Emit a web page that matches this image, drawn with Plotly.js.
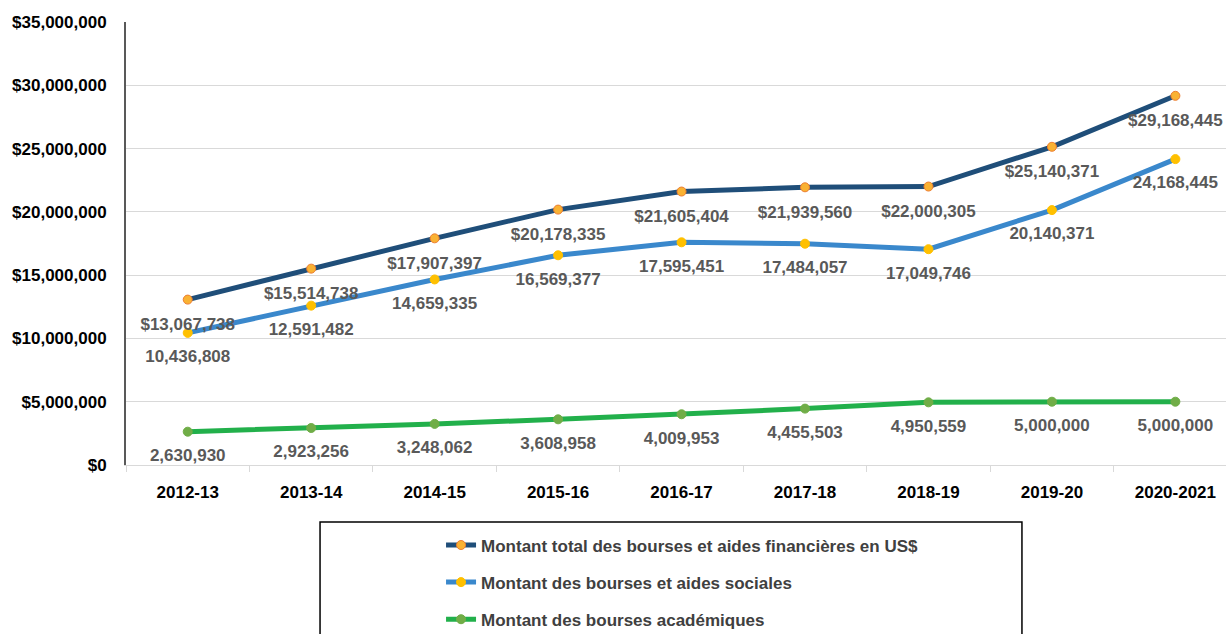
<!DOCTYPE html>
<html>
<head>
<meta charset="utf-8">
<script src="https://cdn.plot.ly/plotly-3.0.1.min.js"></script>
<style>html,body{margin:0;padding:0;overflow:hidden;background:#fff;}</style>
</head>
<body>
<div id="chart" style="width:1226px;height:634px;"></div>
<script>
const years = ["2012-13","2013-14","2014-15","2015-16","2016-17","2017-18","2018-19","2019-20","2020-2021"];
const totalAmounts = [13067738,15514738,17907397,20178335,21605404,21939560,22000305,25140371,29168445];
const socialAmounts = [10436808,12591482,14659335,16569377,17595451,17484057,17049746,20140371,24168445];
const academicAmounts = [2630930,2923256,3248062,3608958,4009953,4455503,4950559,5000000,5000000];
const seriesNames = [
  "Montant total des bourses et aides financières en US$",
  "Montant des bourses et aides sociales",
  "Montant des bourses académiques"
];
const yTickVals = [0,5000000,10000000,15000000,20000000,25000000,30000000,35000000];
const yTickText = ["$0","$5,000,000","$10,000,000","$15,000,000","$20,000,000","$25,000,000","$30,000,000","$35,000,000"];

const fmt = v => v.toLocaleString("en-US");
const FONT = "Liberation Sans, Arial, sans-serif";
const labelFont = {family: FONT, size: 17, color: "#595959", weight: 700};

function lineTrace(vals, name, lineColor, markerColor, markerLine, group) {
  return {
    x: years, y: vals, name: name, type: "scatter", mode: "lines+markers",
    legendgroup: group,
    line: {color: lineColor, width: 5},
    marker: {color: markerColor, size: 9, line: {color: markerLine, width: 1}},
    cliponaxis: false,
    hoverinfo: "x+y"
  };
}
function labelTrace(vals, prefix, group, msize) {
  return {
    x: years, y: vals, type: "scatter", mode: "markers+text",
    legendgroup: group, showlegend: false,
    marker: {color: "rgba(0,0,0,0)", size: msize},
    text: vals.map(v => prefix + fmt(v)),
    textposition: "bottom center",
    textfont: labelFont,
    cliponaxis: false,
    hoverinfo: "skip"
  };
}

const data = [
  lineTrace(totalAmounts, seriesNames[0], "#1F4E79", "#F9B233", "#ED7D31", "g1"),
  lineTrace(socialAmounts, seriesNames[1], "#3A88CC", "#FFC000", "#FFC000", "g2"),
  lineTrace(academicAmounts, seriesNames[2], "#22B04B", "#70AD47", "#70AD47", "g3"),
  labelTrace(totalAmounts, "$", "g1", 27),
  labelTrace(socialAmounts, "", "g2", 25),
  labelTrace(academicAmounts, "", "g3", 25)
];

const layout = {
  width: 1226, height: 634,
  margin: {l: 126, r: 0, t: 22, b: 169, autoexpand: false},
  paper_bgcolor: "#fff", plot_bgcolor: "#fff",
  showlegend: true,
  xaxis: {
    type: "category",
    range: [-0.5, 8.41],
    showgrid: false,
    showline: true, linecolor: "#d9d9d9", linewidth: 1,
    ticks: "outside", tickson: "boundaries", ticklen: 6, tickcolor: "#d9d9d9",
    ticklabelstandoff: 12,
    tickfont: {family: FONT, size: 17, color: "#000", weight: 700},
    fixedrange: true
  },
  yaxis: {
    range: [0, 35000000],
    tickvals: yTickVals, ticktext: yTickText,
    showgrid: true, gridcolor: "#d9d9d9", gridwidth: 1,
    showline: true, linecolor: "#595959", linewidth: 2,
    zeroline: false,
    ticks: "", ticklabelstandoff: 14,
    tickfont: {family: FONT, size: 17, color: "#000", weight: 700},
    fixedrange: true
  },
  legend: {
    x: 0.2864, y: -0.141, xanchor: "left", yanchor: "top",
    orientation: "v", traceorder: "grouped", tracegroupgap: 12,
    bgcolor: "rgba(0,0,0,0)", borderwidth: 0,
    font: {family: FONT, size: 17, color: "#404040", weight: 700},
    itemwidth: 30
  },
  shapes: [{
    type: "rect", xref: "paper", yref: "paper",
    x0: 0.1764, x1: 0.8145, y0: -0.1287, y1: -0.42,
    line: {color: "#000", width: 1.5}, fillcolor: "rgba(0,0,0,0)", layer: "below"
  }]
};

Plotly.newPlot("chart", data, layout, {displayModeBar: false, staticPlot: true});
</script>
</body>
</html>
